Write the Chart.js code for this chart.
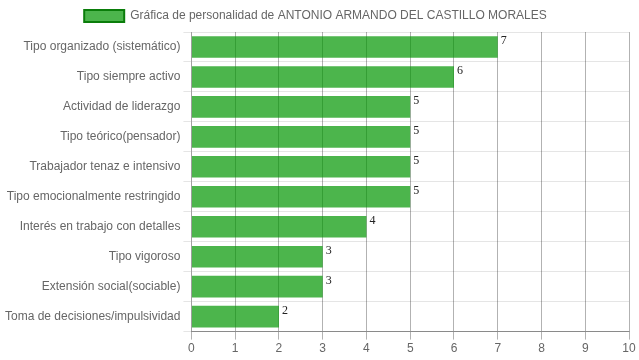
<!DOCTYPE html>
<html>
<head>
<meta charset="utf-8">
<script src="https://cdn.jsdelivr.net/npm/chart.js@4/dist/chart.umd.min.js"></script>
<style>
  html, body { margin: 0; padding: 0; background: #fff; }
  #wrap { width: 639px; height: 360px; }
</style>
</head>
<body>
<div id="wrap"><canvas id="personalidad"></canvas></div>
<script>
const rasgos = [
    'Tipo organizado (sistemático)',
    'Tipo siempre activo',
    'Actividad de liderazgo',
    'Tipo teórico(pensador)',
    'Trabajador tenaz e intensivo',
    'Tipo emocionalmente restringido',
    'Interés en trabajo con detalles',
    'Tipo vigoroso',
    'Extensión social(sociable)',
    'Toma de decisiones/impulsividad'
];
const puntajes = [7, 6, 5, 5, 5, 5, 4, 3, 3, 2];
const tituloSerie = 'Gráfica de personalidad de ANTONIO ARMANDO DEL CASTILLO MORALES';

// dibuja el valor al final de cada barra
const etiquetasValor = {
    id: 'etiquetasValor',
    afterDatasetsDraw(chart) {
        const ctx = chart.ctx;
        const meta = chart.getDatasetMeta(0);
        ctx.save();
        ctx.font = '12px "Liberation Serif", "DejaVu Serif", serif';
        ctx.fillStyle = '#222';
        ctx.textAlign = 'left';
        ctx.textBaseline = 'top';
        meta.data.forEach((bar, i) => {
            ctx.fillText(puntajes[i], bar.x + 3, bar.y - bar.height / 2 - 1);
        });
        ctx.restore();
    }
};

document.addEventListener('DOMContentLoaded', function() {
    Chart.defaults.font.family = '"Liberation Sans", Arial, sans-serif';
    Chart.defaults.font.size = 12;
    Chart.defaults.color = '#666';

    const ctx = document.getElementById('personalidad').getContext('2d');
    new Chart(ctx, {
        type: 'bar',
        data: {
            labels: rasgos,
            datasets: [{
                label: tituloSerie,
                data: puntajes,
                backgroundColor: 'rgba(0, 150, 0, 0.7)',
                borderWidth: 0
            }]
        },
        options: {
            indexAxis: 'y',
            responsive: true,
            maintainAspectRatio: false,
            animation: false,
            layout: { padding: { left: 2, right: 10, bottom: 2 } },
            plugins: {
                legend: {
                    labels: {
                        boxWidth: 40,
                        boxHeight: 12,
                        padding: 10,
                        generateLabels: chart => [{
                            text: tituloSerie,
                            fillStyle: 'rgba(0, 150, 0, 0.7)',
                            strokeStyle: '#0a7d0a',
                            lineWidth: 2,
                            datasetIndex: 0,
                            fontColor: '#666'
                        }]
                    }
                },
                tooltip: { enabled: false }
            },
            scales: {
                x: {
                    min: 0,
                    max: 10,
                    ticks: { stepSize: 1, padding: 2 },
                    grid: { color: 'rgba(0, 0, 0, 0.3)' },
                    border: { color: 'rgba(0, 0, 0, 0.4)' }
                },
                y: {
                    grid: { color: 'rgba(0, 0, 0, 0.1)' },
                    border: { color: 'rgba(0, 0, 0, 0.1)' }
                }
            }
        },
        plugins: [etiquetasValor]
    });
});
</script>
</body>
</html>
